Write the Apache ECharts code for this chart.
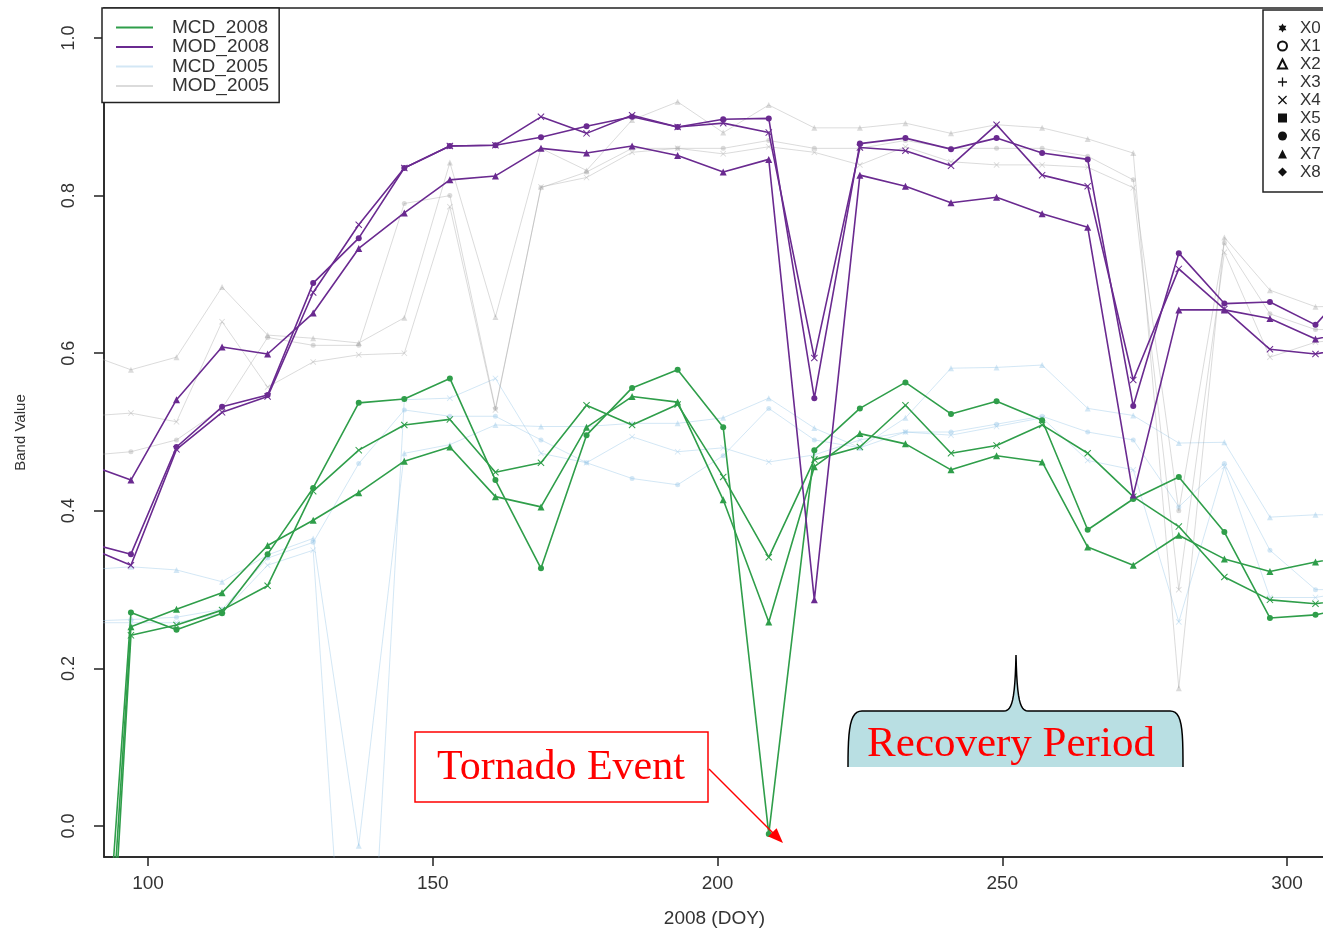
<!DOCTYPE html>
<html>
<head>
<meta charset="utf-8">
<script src="https://cdn.jsdelivr.net/npm/echarts@6/dist/echarts.min.js"></script>
<style>
  html, body { margin: 0; padding: 0; background: #fff; }
  #main { width: 1323px; height: 930px; }
</style>
</head>
<body>
<div id="main"></div>
<script>
// 横轴：DOY（8天合成）
const doy = [89, 97, 105, 113, 121, 129, 137, 145, 153, 161, 169, 177, 185, 193, 201, 209, 217, 225, 233, 241, 249, 257, 265, 273, 281, 289, 297, 305, 313]
// MCD_2008 三条线
const mcd2008Circle = [-0.55, 0.271, 0.249, 0.270, 0.345, 0.429, 0.537, 0.542, 0.568, 0.439, 0.327, 0.496, 0.556, 0.579, 0.506, -0.01, 0.477, 0.530, 0.563, 0.523, 0.539, 0.515, 0.376, 0.415, 0.443, 0.373, 0.264, 0.268, 0.28]
const mcd2008Cross = [-0.75, 0.242, 0.255, 0.274, 0.305, 0.425, 0.477, 0.509, 0.516, 0.449, 0.461, 0.534, 0.509, 0.535, 0.443, 0.341, 0.465, 0.481, 0.534, 0.473, 0.483, 0.509, 0.473, 0.418, 0.380, 0.316, 0.287, 0.282, 0.29]
const mcd2008Tri = [-0.65, 0.253, 0.275, 0.296, 0.356, 0.388, 0.423, 0.463, 0.481, 0.418, 0.405, 0.506, 0.545, 0.538, 0.414, 0.259, 0.456, 0.498, 0.485, 0.452, 0.470, 0.462, 0.354, 0.331, 0.369, 0.339, 0.323, 0.335, 0.345]
// MOD_2008 三条线
const mod2008Circle = [0.36, 0.345, 0.481, 0.532, 0.547, 0.689, 0.746, 0.835, 0.863, 0.864, 0.874, 0.888, 0.900, 0.887, 0.897, 0.898, 0.543, 0.866, 0.873, 0.859, 0.873, 0.854, 0.846, 0.533, 0.727, 0.663, 0.665, 0.636, 0.70]
const mod2008Cross = [0.355, 0.331, 0.478, 0.525, 0.545, 0.677, 0.763, 0.835, 0.863, 0.864, 0.900, 0.879, 0.902, 0.887, 0.892, 0.880, 0.594, 0.861, 0.857, 0.838, 0.890, 0.826, 0.812, 0.566, 0.707, 0.656, 0.605, 0.599, 0.61]
const mod2008Tri = [0.46, 0.439, 0.541, 0.608, 0.599, 0.651, 0.733, 0.778, 0.820, 0.825, 0.860, 0.854, 0.863, 0.851, 0.830, 0.846, 0.287, 0.826, 0.812, 0.791, 0.798, 0.777, 0.760, 0.420, 0.655, 0.655, 0.644, 0.618, 0.63]
// MCD_2005（浅蓝）
const mcd2005A = [0.325, 0.329, 0.325, 0.310, 0.344, 0.365, -0.025, 0.473, 0.484, 0.509, 0.507, 0.507, 0.511, 0.511, 0.518, 0.543, 0.505, 0.480, 0.518, 0.581, 0.582, 0.585, 0.530, 0.521, 0.486, 0.487, 0.392, 0.395, 0.395]
const mcd2005B = [0.258, 0.258, 0.258, 0.270, 0.331, 0.350, -0.50, 0.541, 0.543, 0.568, 0.473, 0.461, 0.494, 0.475, 0.480, 0.462, 0.471, 0.490, 0.500, 0.496, 0.507, 0.518, 0.464, 0.452, 0.259, 0.456, 0.290, 0.290, 0.30]
const mcd2005C = [0.26, 0.262, 0.265, 0.275, 0.34, 0.36, 0.46, 0.528, 0.52, 0.52, 0.49, 0.461, 0.441, 0.433, 0.47, 0.53, 0.49, 0.48, 0.50, 0.50, 0.51, 0.52, 0.50, 0.49, 0.405, 0.46, 0.35, 0.30, 0.30]
// MOD_2005（浅灰）
const mod2005A = [0.60, 0.579, 0.595, 0.684, 0.623, 0.619, 0.613, 0.645, 0.842, 0.646, 0.860, 0.832, 0.896, 0.919, 0.880, 0.915, 0.886, 0.886, 0.892, 0.879, 0.890, 0.886, 0.872, 0.854, 0.175, 0.747, 0.680, 0.659, 0.66]
const mod2005B = [0.52, 0.524, 0.513, 0.640, 0.557, 0.589, 0.598, 0.600, 0.786, 0.528, 0.811, 0.823, 0.855, 0.860, 0.853, 0.862, 0.855, 0.839, 0.862, 0.843, 0.839, 0.839, 0.836, 0.810, 0.30, 0.728, 0.595, 0.614, 0.62]
const mod2005C = [0.47, 0.475, 0.49, 0.53, 0.62, 0.61, 0.61, 0.79, 0.80, 0.53, 0.81, 0.83, 0.86, 0.86, 0.86, 0.87, 0.86, 0.86, 0.87, 0.86, 0.86, 0.86, 0.85, 0.82, 0.40, 0.74, 0.65, 0.63, 0.63]

const xTicks = [100, 150, 200, 250, 300]
const yTicks = [0, 0.2, 0.4, 0.6, 0.8, 1.0]
const legendNames = ['MCD_2008', 'MOD_2008', 'MCD_2005', 'MOD_2005']
const markerNames = ['X0', 'X1', 'X2', 'X3', 'X4', 'X5', 'X6', 'X7', 'X8']

const crossPath = 'path://M0,1L1,0L5,4L9,0L10,1L6,5L10,9L9,10L5,6L1,10L0,9L4,5Z'
const plusPath = 'path://M4.3,0H5.7V4.3H10V5.7H5.7V10H4.3V5.7H0V4.3H4.3Z'
const starPath = 'path://M5,0L10,8.66L0,8.66Z M5,11.55L0,2.89L10,2.89Z'
const font = 'Liberation Sans'

const myChart = echarts.init(document.querySelector('#main'))

function makeLine(name, values, color, symbol, size, width, z) {
  return {
    name,
    type: 'line',
    data: doy.map((d, i) => [d, values[i]]),
    symbol,
    symbolSize: size,
    clip: true,
    z,
    itemStyle: { color },
    lineStyle: { color, width },
    emphasis: { disabled: true },
  }
}

// 三次贝塞尔取点，用来画 Recovery Period 的括号框
function bezier(p0, p1, p2, p3, n) {
  const pts = []
  for (let i = 1; i <= n; i++) {
    const t = i / n
    const a = (1 - t) ** 3, b = 3 * (1 - t) ** 2 * t, c = 3 * (1 - t) * t * t, d = t ** 3
    pts.push([a * p0[0] + b * p1[0] + c * p2[0] + d * p3[0], a * p0[1] + b * p1[1] + c * p2[1] + d * p3[1]])
  }
  return pts
}
const bracePts = [[848, 767]]
  .concat(bezier([848, 767], [848, 728], [850, 711], [862, 711], 12))
  .concat([[1004, 711]])
  .concat(bezier([1004, 711], [1012, 711], [1015, 700], [1016, 655], 12))
  .concat(bezier([1016, 655], [1017, 700], [1020, 711], [1028, 711], 12))
  .concat([[1170, 711]])
  .concat(bezier([1170, 711], [1182, 711], [1183, 728], [1183, 767], 12))

const faintBlue = 'rgba(150,198,232,0.42)'
const faintGray = 'rgba(160,160,160,0.38)'
const green = '#2f9e4a'
const purple = '#6a2a90'

const series = [
  makeLine('MCD_2005', mcd2005A, faintBlue, 'triangle', 6, 1, 1),
  makeLine('MCD_2005', mcd2005B, faintBlue, crossPath, 6, 1, 1),
  makeLine('MCD_2005', mcd2005C, faintBlue, 'circle', 5, 1, 1),
  makeLine('MOD_2005', mod2005A, faintGray, 'triangle', 6, 1, 1),
  makeLine('MOD_2005', mod2005B, faintGray, crossPath, 6, 1, 1),
  makeLine('MOD_2005', mod2005C, faintGray, 'circle', 5, 1, 1),
  makeLine('MCD_2008', mcd2008Circle, green, 'circle', 6, 1.6, 3),
  makeLine('MCD_2008', mcd2008Cross, green, crossPath, 7, 1.6, 3),
  makeLine('MCD_2008', mcd2008Tri, green, 'triangle', 7, 1.6, 3),
  makeLine('MOD_2008', mod2008Circle, purple, 'circle', 6, 1.6, 4),
  makeLine('MOD_2008', mod2008Cross, purple, crossPath, 7, 1.6, 4),
  makeLine('MOD_2008', mod2008Tri, purple, 'triangle', 7, 1.6, 4),
]
// 右上角标记图例用的空系列
markerNames.forEach(n => series.push({ name: n, type: 'line', data: [], itemStyle: { color: '#111' } }))

const markerIcons = [starPath, 'emptyCircle', 'emptyTriangle', plusPath, crossPath, 'rect', 'circle', 'triangle', 'diamond']

const option = {
  animation: false,
  textStyle: { fontFamily: font },
  grid: {
    left: 104,
    top: 8,
    width: 1221,
    height: 849,
    outerBoundsMode: 'none',
    containLabel: false,
    show: true,
    borderColor: '#222',
    borderWidth: 1.5,
  },
  xAxis: {
    type: 'value',
    min: 92.27,
    max: 306.67,
    name: '2008 (DOY)',
    nameLocation: 'middle',
    nameGap: 52,
    nameTextStyle: { fontSize: 19, color: '#333', fontFamily: font },
    splitLine: { show: false },
    axisLine: { show: true, onZero: false, lineStyle: { color: '#222', width: 1.5 } },
    axisTick: { customValues: xTicks, length: 9, lineStyle: { color: '#222', width: 1.5 } },
    axisLabel: { customValues: xTicks, fontSize: 19, color: '#333', margin: 17, fontFamily: font },
  },
  yAxis: {
    type: 'value',
    min: -0.0393,
    max: 1.0381,
    name: 'Band Value',
    nameLocation: 'middle',
    nameRotate: 90,
    nameGap: 76,
    nameTextStyle: { fontSize: 15, color: '#333', fontFamily: font },
    splitLine: { show: false },
    axisLine: { show: true, onZero: false, lineStyle: { color: '#222', width: 1.5 } },
    axisTick: { customValues: yTicks, length: 10, lineStyle: { color: '#222', width: 1.5 } },
    axisLabel: {
      customValues: yTicks,
      rotate: 90,
      margin: 26,
      fontSize: 18,
      color: '#333',
      fontFamily: font,
      formatter: v => v.toFixed(1),
    },
  },
  legend: [
    {
      orient: 'vertical',
      left: 102,
      top: 8,
      padding: [10, 10, 7, 14],
      borderColor: '#222',
      borderWidth: 1.5,
      backgroundColor: '#fff',
      itemWidth: 37,
      itemHeight: 2,
      itemGap: 0.5,
      icon: 'rect',
      selectedMode: false,
      textStyle: { fontSize: 19, lineHeight: 18, color: '#333', padding: [0, 0, 0, 14], fontFamily: font },
      data: legendNames,
    },
    {
      orient: 'vertical',
      left: 1263,
      top: 10,
      padding: [9, 12, 11, 14],
      borderColor: '#222',
      borderWidth: 1.5,
      backgroundColor: '#fff',
      itemWidth: 9,
      itemHeight: 9,
      itemGap: 0,
      selectedMode: false,
      textStyle: { fontSize: 17, lineHeight: 18, color: '#333', padding: [0, 0, 0, 8], fontFamily: font },
      data: markerNames.map((n, i) => ({ name: n, icon: markerIcons[i] })),
    },
  ],
  graphic: [
    // Tornado Event 标注框
    {
      type: 'rect',
      shape: { x: 415, y: 732, width: 293, height: 70 },
      style: { fill: '#fff', stroke: '#f00', lineWidth: 1.5 },
      z: 100,
    },
    {
      type: 'text',
      x: 561,
      y: 768,
      style: {
        text: 'Tornado Event',
        fill: '#f00',
        font: '42px "Liberation Serif"',
        align: 'center',
        verticalAlign: 'middle',
        textAlign: 'center',
        textVerticalAlign: 'middle',
      },
      z: 101,
    },
    {
      type: 'line',
      shape: { x1: 709, y1: 769, x2: 775, y2: 835 },
      style: { stroke: '#f00', lineWidth: 1.5 },
      z: 100,
    },
    {
      type: 'polygon',
      shape: { points: [[783, 843], [768.2, 836.6], [776.6, 828.2]] },
      style: { fill: '#f00' },
      z: 100,
    },
    // Recovery Period 括号框
    {
      type: 'polygon',
      shape: { points: bracePts },
      style: { fill: '#b9dfe3', stroke: 'none' },
      z: 100,
    },
    {
      type: 'polyline',
      shape: { points: bracePts },
      style: { fill: 'none', stroke: '#000', lineWidth: 1.5 },
      z: 101,
    },
    {
      type: 'text',
      x: 1011,
      y: 745,
      style: {
        text: 'Recovery Period',
        fill: '#f00',
        font: '43px "Liberation Serif"',
        align: 'center',
        verticalAlign: 'middle',
        textAlign: 'center',
        textVerticalAlign: 'middle',
      },
      z: 102,
    },
  ],
  series,
}
myChart.setOption(option)
</script>
</body>
</html>
